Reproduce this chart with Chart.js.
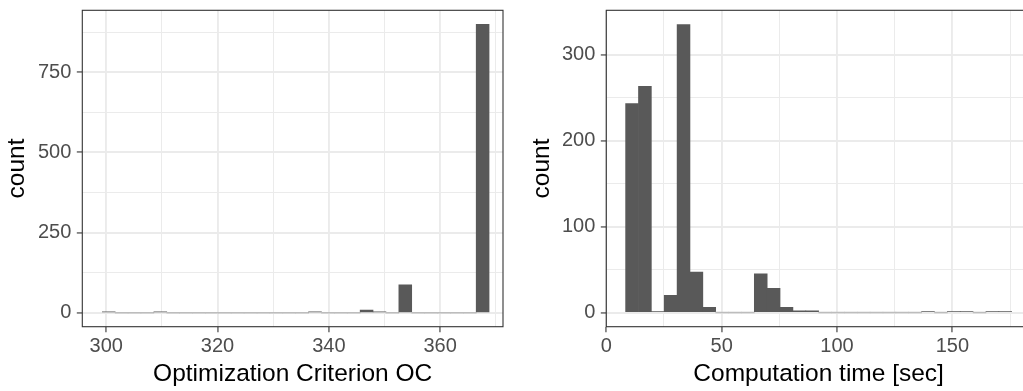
<!DOCTYPE html>
<html>
<head>
<meta charset="utf-8">
<script src="https://cdn.jsdelivr.net/npm/chart.js@4"></script>
<style>
  body { margin: 0; background: #fff; overflow: hidden; width: 1023px; height: 391px; position: relative; }
  canvas { position: absolute; top: 0; }
</style>
</head>
<body>
<canvas id="oc-chart" width="512" height="391" style="left:0"></canvas>
<canvas id="time-chart" width="519" height="391" style="left:512px"></canvas>
<script>
// histogram 1: optimization criterion (bin centres and counts)
const ocBins = [300.45, 302.77, 305.08, 307.40, 309.72, 312.04, 314.35, 316.67, 318.99, 321.30,
  323.62, 325.94, 328.25, 330.57, 332.89, 335.21, 337.52, 339.84, 342.16, 344.47,
  346.79, 349.11, 351.42, 353.74, 356.06, 358.38, 360.69, 363.01, 365.33, 367.64];
const ocCounts = [1, 0, 0, 0, 1, 0, 0, 0, 0, 0, 0, 0, 0, 0, 0, 0, 1, 0, 0, 0,
  8, 1, 0, 87, 0, 0, 0, 0, 0, 899];
const ocXMajor = [300, 320, 340, 360];
const ocXMinor = [310, 330, 350, 370];
const ocYMajor = [0, 250, 500, 750];
const ocYMinor = [125, 375, 625, 875];

// histogram 2: computation time
const timeBins = [11.16, 16.74, 22.32, 27.90, 33.48, 39.06, 44.63, 50.21, 55.79, 61.37,
  66.95, 72.53, 78.11, 83.69, 89.27, 94.85, 100.42, 106.00, 111.58, 117.16,
  122.74, 128.32, 133.90, 139.48, 145.06, 150.64, 156.21, 161.79, 167.37, 172.95];
const timeCounts = [243, 263, 1, 20, 335, 47, 6, 0, 0, 0, 45, 28, 6, 2, 2, 0, 0, 0, 0, 0,
  0, 0, 0, 1, 0, 1, 1, 0, 1, 1];
const timeXMajor = [0, 50, 100, 150];
const timeXMinor = [25, 75, 125, 175];
const timeYMajor = [0, 100, 200, 300];
const timeYMinor = [50, 150, 250];

const FONT = "'Liberation Sans', Arial, Helvetica, sans-serif";
const BAR = '#595959';
const EMPTY = '#BDBDBD';

// ggplot-like panel border, drawn over the bars
const panelBorder = {
  id: 'panelBorder',
  afterDatasetsDraw(chart) {
    const { ctx, chartArea: a } = chart;
    ctx.save();
    ctx.strokeStyle = '#333333';
    ctx.lineWidth = 1.1;
    ctx.strokeRect(a.left, a.top, a.right - a.left, a.bottom - a.top);
    ctx.restore();
  }
};

function axis(min, max, major, minor, title, titlePad, tickPad, size) {
  const isMinor = v => minor.includes(v);
  return {
    type: 'linear',
    min: min,
    max: max,
    offset: false,
    afterBuildTicks: scale => {
      scale.ticks = major.concat(minor).sort((a, b) => a - b).map(value => ({ value }));
    },
    afterFit: scale => {
      if (scale.isHorizontal()) scale.height = size;
      else scale.width = size;
      scale.paddingTop = 0;
      scale.paddingBottom = 0;
      scale.paddingLeft = 0;
      scale.paddingRight = 0;
    },
    ticks: {
      padding: tickPad,
      color: '#4D4D4D',
      font: { family: FONT, size: 20 },
      maxRotation: 0,
      autoSkip: false,
      callback: v => (isMinor(v) ? '' : String(v))
    },
    grid: {
      offset: false,
      color: '#EBEBEB',
      lineWidth: c => (c.tick && isMinor(c.tick.value) ? 1 : 1.9),
      drawTicks: true,
      tickLength: 5.5,
      tickWidth: 1.1,
      tickColor: c => (c.tick && isMinor(c.tick.value) ? 'rgba(0,0,0,0)' : '#333333')
    },
    border: { display: false },
    title: {
      display: true,
      text: title,
      color: '#000000',
      font: { family: FONT, size: 24.5 },
      padding: titlePad
    }
  };
}

function histogram(id, bins, counts, x, y, padRight) {
  new Chart(document.getElementById(id), {
    type: 'bar',
    plugins: [panelBorder],
    data: {
      datasets: [{
        data: bins.map((b, i) => ({ x: b, y: counts[i] })),
        backgroundColor: counts.map(c => (c > 0 ? BAR : EMPTY)),
        borderWidth: 0,
        barPercentage: 1,
        categoryPercentage: 1,
        minBarLength: 1
      }]
    },
    options: {
      responsive: false,
      animation: false,
      devicePixelRatio: 1,
      layout: { padding: { top: 10.3, right: padRight, left: 0, bottom: 0 } },
      plugins: { legend: { display: false }, tooltip: { enabled: false } },
      scales: { x: x, y: y }
    }
  });
}

histogram('oc-chart', ocBins, ocCounts,
  axis(295.7, 371.3, ocXMajor, ocXMinor, 'Optimization Criterion OC', { bottom: 2.3 }, 2.6, 64.3),
  axis(-43.5, 943, ocYMajor, ocYMinor, 'count', { top: 2.8 }, 5.5, 82.3),
  9);

histogram('time-chart', timeBins, timeCounts,
  axis(0, 184.1, timeXMajor, timeXMinor, 'Computation time [sec]', { bottom: 2.3 }, 2.6, 64.3),
  axis(-16.5, 351.5, timeYMajor, timeYMinor, 'count', { top: 15.1 }, 5.5, 94.3),
  0);
</script>
</body>
</html>
